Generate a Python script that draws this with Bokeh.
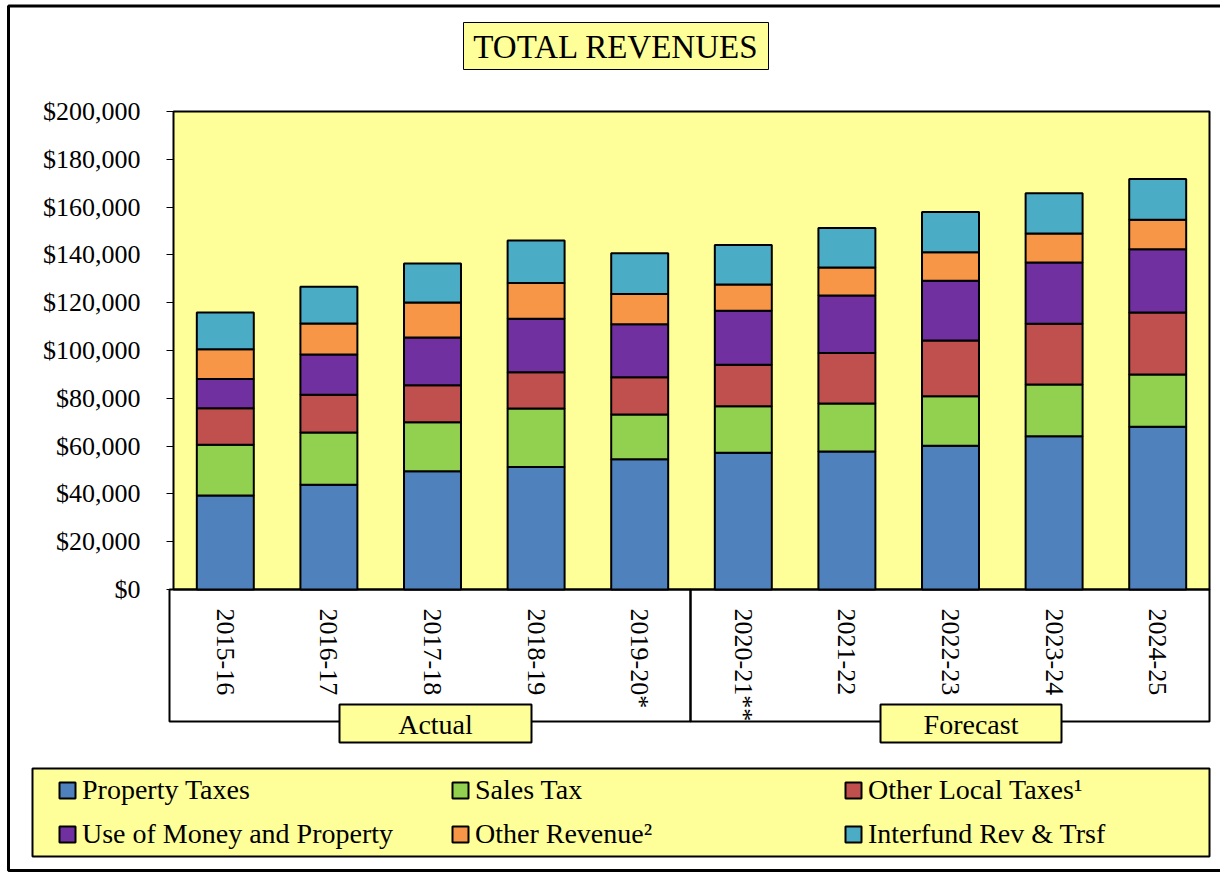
import math
from bokeh.plotting import figure
from bokeh.core.properties import value
from bokeh.models import (Range1d, FixedTicker, NumeralTickFormatter, LinearAxis,
                          Legend, LegendItem, ColumnDataSource)
from bokeh.embed import file_html
from bokeh.resources import INLINE

# ---------------- data ----------------
years = ["2015-16", "2016-17", "2017-18", "2018-19", "2019-20*",
         "2020-21**", "2021-22", "2022-23", "2023-24", "2024-25"]
property_taxes = [39300, 43800, 49500, 51300, 54500, 57200, 57700, 60100, 64100, 68100]
sales_tax = [21300, 21900, 20500, 24400, 18700, 19500, 20100, 20800, 21700, 21900]
other_local_taxes = [15200, 15800, 15500, 15200, 15600, 17300, 21200, 23300, 25400, 25900]
use_of_money = [12300, 16800, 19900, 22400, 22200, 22600, 24000, 25000, 25600, 26500]
other_revenue = [12400, 13000, 14700, 14900, 12600, 11000, 11700, 11900, 12200, 12300]
interfund = [15400, 15400, 16300, 17800, 17100, 16500, 16600, 16800, 16800, 17100]
series_labels = ["Property Taxes", "Sales Tax", "Other Local Taxes\u00b9",
                 "Use of Money and Property", "Other Revenue\u00b2", "Interfund Rev & Trsf"]
y_ticks = list(range(0, 200001, 20000))
y_max = 200000
title_text = "TOTAL REVENUES"
group_labels = ["Actual", "Forecast"]

# ---------------- style / layout (canvas px) ----------------
COLORS = ["#4F81BD", "#92D050", "#C0504D", "#7030A0", "#F79646", "#4BACC6"]
YELLOW = "#FFFF99"
FONT = "Liberation Serif"

W, H = 1220, 872
PL, PR, PT, PB = 173, 1209, 111, 589      # plot-area edges
n = len(years)
cat_w = (PR - PL) / n
val_per_px = y_max / (PB - PT)

p = figure(x_range=Range1d(0, W), y_range=Range1d(H, 0), width=W, height=H,
           x_axis_type=None, y_axis_type=None, output_backend="svg",
           toolbar_location=None, title=None, min_border=0,
           outline_line_color=None, background_fill_color="white",
           border_fill_color="white")

# data ranges mapped onto the plot area
p.extra_x_ranges = {"idx": Range1d(-0.5 - PL / cat_w, -0.5 + (W - PL) / cat_w)}
p.extra_y_ranges = {"val": Range1d(-(H - PB) * val_per_px, PB * val_per_px)}

FONTV = value(FONT)

# outer frame
p.quad(left=[8], right=[1280], top=[5.5], bottom=[870], fill_alpha=0,
       line_color="black", line_width=3)
# title box
p.quad(left=[463], right=[768], top=[22], bottom=[69], fill_color=YELLOW,
       line_color="black", line_width=1)
p.text(x=[615.5], y=[46], text=[title_text], text_align="center", text_baseline="middle",
       text_font=FONTV, text_font_size="33px", text_color="black")
# plot area
p.quad(left=[PL], right=[PR], top=[PT], bottom=[PB], fill_color=YELLOW,
       line_color="black", line_width=2)
# category boxes
p.quad(left=[169, 690], right=[690, PR], top=[PB, PB], bottom=[721, 721], fill_alpha=0,
       line_color="black", line_width=2)
# actual / forecast boxes
p.quad(left=[339, 880], right=[531, 1061], top=[704, 704], bottom=[742, 742],
       fill_color=YELLOW, line_color="black", line_width=2)
p.text(x=[435, 970.5], y=[724, 724], text=group_labels, text_align="center",
       text_baseline="middle", text_font=FONTV, text_font_size="28px", text_color="black")
# legend box
p.quad(left=[32], right=[PR], top=[768], bottom=[856], fill_color=YELLOW,
       line_color="black", line_width=2)

# stacked bars
keys = ["s0", "s1", "s2", "s3", "s4", "s5"]
source = ColumnDataSource(dict(idx=list(range(n)), s0=property_taxes, s1=sales_tax,
                               s2=other_local_taxes, s3=use_of_money,
                               s4=other_revenue, s5=interfund))
rs = p.vbar_stack(keys, x="idx", width=0.55, source=source, fill_color=COLORS,
                  line_color="black", line_width=2, x_range_name="idx", y_range_name="val")

# y axis at the plot-area left edge
ya = LinearAxis(y_range_name="val", fixed_location=PL,
                ticker=FixedTicker(ticks=y_ticks),
                formatter=NumeralTickFormatter(format="$0,0"))
ya.major_label_text_font = FONT
ya.major_label_text_font_size = "26px"
ya.major_label_text_color = "black"
ya.major_tick_out = 7
ya.major_tick_in = 0
ya.minor_tick_line_color = None
ya.major_tick_line_color = "black"
ya.axis_line_color = None
ya.major_label_standoff = 26
p.add_layout(ya, "left")

# x axis (categories) at value 0
xa = LinearAxis(x_range_name="idx", y_range_name="val", fixed_location=0,
                ticker=FixedTicker(ticks=list(range(n))),
                major_label_overrides={i: y for i, y in enumerate(years)})
xa.major_label_orientation = -math.pi / 2
xa.major_label_text_font = FONT
xa.major_label_text_font_size = "26px"
xa.major_label_text_color = "black"
xa.major_tick_line_color = None
xa.major_tick_out = 0
xa.major_tick_in = 0
xa.minor_tick_line_color = None
xa.axis_line_color = None
xa.major_label_standoff = 19
p.add_layout(xa, "below")

legend = Legend(items=[LegendItem(label=lab, renderers=[r]) for lab, r in zip(series_labels, rs)],
                location=(57, H - 849.5), orientation="horizontal", ncols=3,
                label_text_font=FONT, label_text_font_size="28px", label_text_color="black",
                glyph_width=20, glyph_height=20, label_height=20, label_width=356,
                label_standoff=5, spacing=12, padding=0, margin=0,
                border_line_color=None, background_fill_alpha=0.0)
p.add_layout(legend)

open("out.html", "w").write(file_html(p, INLINE))
